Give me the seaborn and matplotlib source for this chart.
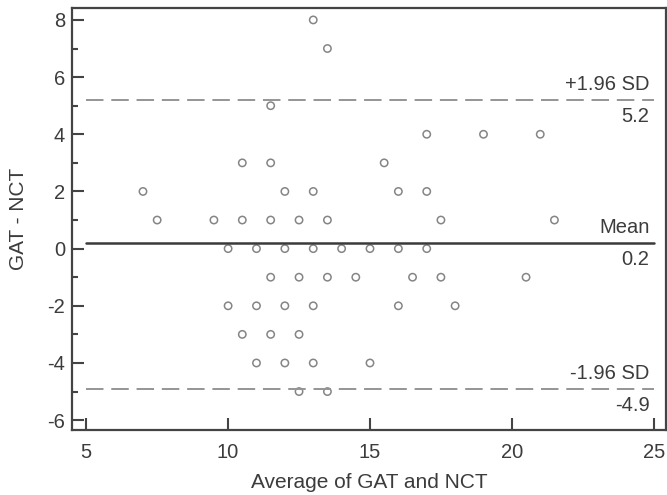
import matplotlib
matplotlib.use("Agg")
import matplotlib.pyplot as plt
import seaborn as sns
import pandas as pd

# Bland-Altman data: average of GAT and NCT vs difference
promedio = [13, 13.5, 11.5,
            17, 19, 21,
            10.5, 11.5, 15.5,
            7, 12, 13, 16, 17,
            7.5, 9.5, 10.5, 11.5, 12.5, 13.5, 17.5, 21.5,
            10, 11, 12, 13, 14, 15, 16, 17,
            11.5, 12.5, 13.5, 14.5, 16.5, 17.5, 20.5,
            10, 11, 12, 13, 16, 18,
            10.5, 11.5, 12.5,
            11, 12, 13, 15,
            12.5, 13.5]
diferencia = [8, 7, 5,
              4, 4, 4,
              3, 3, 3,
              2, 2, 2, 2, 2,
              1, 1, 1, 1, 1, 1, 1, 1,
              0, 0, 0, 0, 0, 0, 0, 0,
              -1, -1, -1, -1, -1, -1, -1,
              -2, -2, -2, -2, -2, -2,
              -3, -3, -3,
              -4, -4, -4, -4,
              -5, -5]

media = 0.2
sup = 5.2
inf = -4.9

datos = pd.DataFrame({"x": promedio, "y": diferencia})

sns.set_style("ticks")
plt.rcParams['font.family'] = ['Liberation Sans', 'DejaVu Sans']
plt.rcParams['axes.unicode_minus'] = False

fig = plt.figure(figsize=(6.67, 4.95), dpi=100)
ax = fig.add_axes([0.108, 0.131, 0.89, 0.853])

sns.scatterplot(data=datos, x="x", y="y", ax=ax, marker="o", s=28,
                facecolor="none", edgecolor="#858585", linewidth=1.1)

ax.plot([5, 25], [media, media], color="#3a3a3a", lw=1.8)
ax.plot([5, 25], [sup, sup], color="#959595", lw=1.4, linestyle=(0, (9, 4)))
ax.plot([5, 25], [inf, inf], color="#959595", lw=1.4, linestyle=(0, (9, 4)))

for val, nombre in [(sup, "+1.96 SD"), (media, "Mean"), (inf, "-1.96 SD")]:
    ax.annotate(nombre, (25, val), xytext=(-3, 4), textcoords="offset points",
                ha="right", va="bottom", fontsize=14.5, color="#3c3c3c")
    ax.annotate(f"{val:.1f}", (25, val), xytext=(-3, -5), textcoords="offset points",
                ha="right", va="top", fontsize=14.5, color="#3c3c3c")

ax.set_xlim(4.5, 25.42)
ax.set_ylim(-6.35, 8.42)
ax.set_xticks([5, 10, 15, 20, 25])
ax.set_yticks([-6, -4, -2, 0, 2, 4, 6, 8])
ax.set_yticks(range(-6, 9), minor=True)

ax.tick_params(axis="both", which="major", direction="in", length=8.5, width=1.5,
               color="#444444", labelsize=14.5, labelcolor="#3c3c3c")
ax.tick_params(axis="x", which="major", pad=9)
ax.tick_params(axis="y", which="major", pad=5)
ax.tick_params(axis="y", which="minor", direction="in", length=4.5, width=1.5, color="#444444")
ax.tick_params(axis="x", which="minor", length=0)

for lado in ax.spines.values():
    lado.set_color("#444444")
    lado.set_linewidth(1.6)

ax.set_xlabel("Average of GAT and NCT", fontsize=15, color="#3c3c3c", labelpad=8)
ax.set_ylabel("GAT - NCT", fontsize=15, color="#3c3c3c", labelpad=14)

fig.savefig("out.png", dpi=100)
